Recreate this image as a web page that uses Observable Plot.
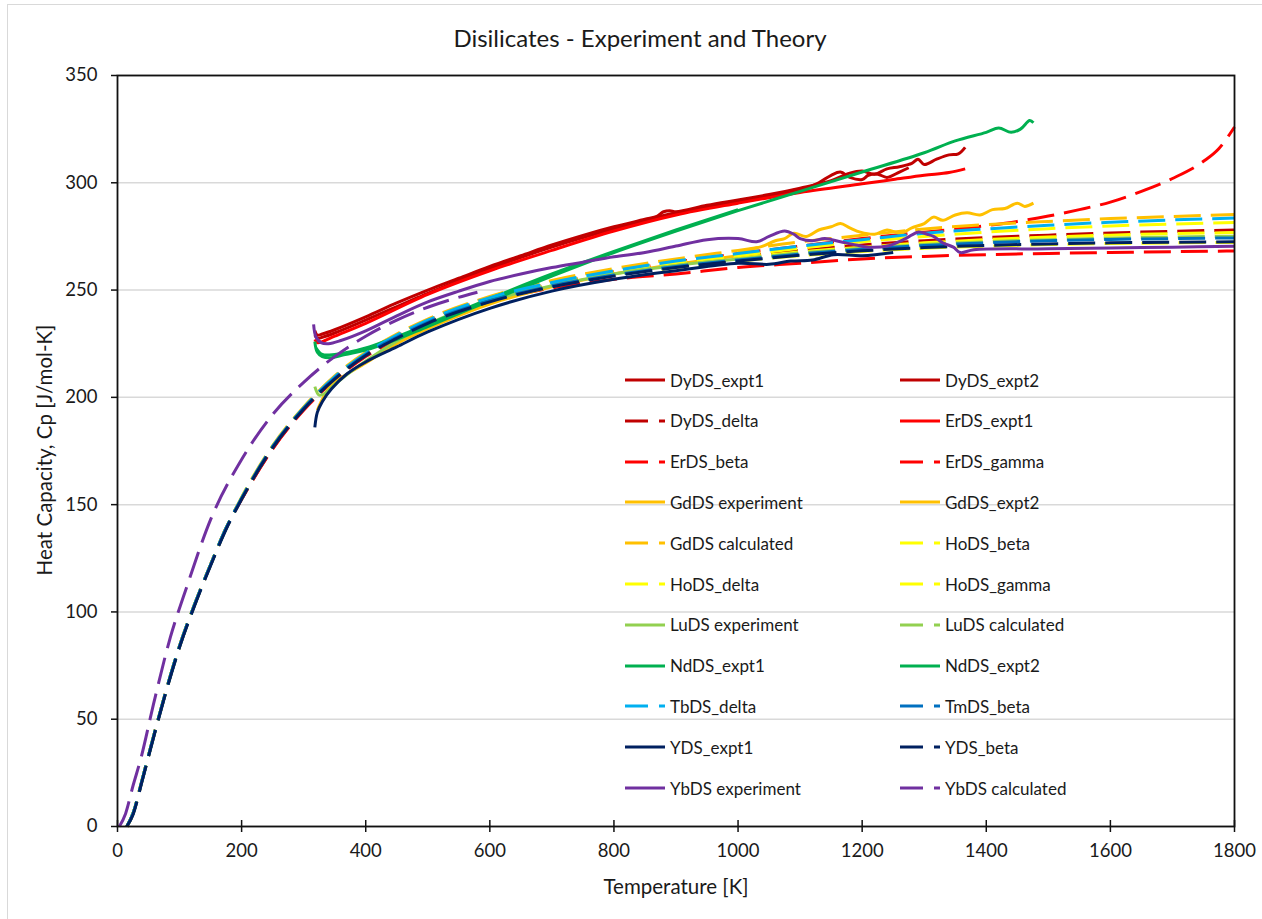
<!DOCTYPE html>
<html><head><meta charset="utf-8">
<script src="https://cdn.jsdelivr.net/npm/d3@7"></script>
<script src="https://cdn.jsdelivr.net/npm/@observablehq/plot@0.6"></script>
<style>
body{margin:0;background:#fff;font-family:Lato,"Open Sans",sans-serif;}
#wrap{position:relative;width:1262px;height:919px;overflow:hidden;background:#fff;}
#border{position:absolute;left:7px;top:4px;width:1300px;height:1000px;border:1.5px solid #d9d9d9;box-sizing:border-box;}
#title{position:absolute;left:0;width:1280px;top:23px;text-align:center;font-size:24px;color:#1a1a1a;}
#ylab{position:absolute;left:44px;top:450px;transform:translate(-50%,-50%) rotate(-90deg);white-space:nowrap;font-size:20.5px;color:#1a1a1a;}
#xlab{position:absolute;left:676px;top:874px;transform:translateX(-50%);white-space:nowrap;font-size:20.5px;color:#1a1a1a;}
#chart{position:absolute;left:0;top:0;}
#legend{position:absolute;left:0;top:0;}
.li{position:absolute;display:flex;align-items:center;font-size:17px;color:#1a1a1a;white-space:nowrap;}
.li svg{margin-right:5px;}
</style></head>
<body><div id="wrap"><div id="border"></div><div id="chart"></div><div id="legend"></div>
<div id="title">Disilicates - Experiment and Theory</div>
<div id="ylab">Heat Capacity, Cp [J/mol-K]</div>
<div id="xlab">Temperature [K]</div></div>
<script>
// ---------- axis ticks ----------
const xTicks = [0, 200, 400, 600, 800, 1000, 1200, 1400, 1600, 1800];
const yTicks = [0, 50, 100, 150, 200, 250, 300, 350];

// ---------- series names (legend order) ----------
const seriesNames = ["DyDS_expt1","DyDS_expt2","DyDS_delta","ErDS_expt1","ErDS_beta","ErDS_gamma",
  "GdDS experiment","GdDS_expt2","GdDS calculated","HoDS_beta","HoDS_delta","HoDS_gamma",
  "LuDS experiment","LuDS calculated","NdDS_expt1","NdDS_expt2","TbDS_delta","TmDS_beta",
  "YDS_expt1","YDS_beta","YbDS experiment","YbDS calculated"];

// ---------- experimental data ----------
const dyExpt1T  = [318,322,330,350,400,450,500,550,600,650,700,750,800,850,870,880,890,900,950,1000,1050,1100,1150,1180,1200,1220,1240,1260,1280,1290,1300,1320,1340,1355,1366];
const dyExpt1Cp = [231,229,229.5,231.5,237.5,244,250,255.5,261,266,271,275.5,279.5,283,284.5,286.5,287,286.5,289.5,292,294.5,297.5,301,304.5,305.5,304,306.5,307.5,309,311,308.5,311,313,313.5,316.5];
const dyExpt2T  = [318,322,330,350,400,500,600,700,800,900,1000,1050,1100,1130,1150,1165,1180,1200,1210,1225,1240,1260,1275];
const dyExpt2Cp = [229,227.5,228,230,236,248.5,260,270,278.5,286,291,293.5,296.5,300,303.5,305,302.5,301.5,303.5,304,302.5,305,307];
const erExpt1T  = [318,322,330,350,400,500,600,700,800,900,1000,1100,1200,1250,1300,1340,1366];
const erExpt1Cp = [227,225.5,226,228.5,234.5,248,259,268.5,277.5,285,290.5,295.5,299.5,301.5,303.5,304.8,306.5];
const gdExptT   = [322,330,340,360,400,450,500,600,700,800,900,1000];
const gdExptCp  = [194,199,204,209,216,225,232,243.5,251.5,257.5,262,266];
const gdExpt2T  = [1000,1020,1040,1060,1075,1090,1110,1130,1150,1165,1180,1197,1220,1240,1262,1280,1300,1315,1330,1350,1369,1390,1410,1430,1450,1462,1476];
const gdExpt2Cp = [268,269,270.5,273,274,276.5,275,278,279.5,281,279,277,276,278,276.5,279,281,284,282.5,285,286,285,287.5,288,290.5,289,290.5];
const luExptT   = [318,325,335,350,400,500,600,700,800,900,1000];
const luExptCp  = [205,201,202,206,217,234,245,252,257.5,261.5,264.5];
const ndExpt1T  = [318,322,330,345,360,400,450,500,600,700,800,900,1000,1100,1200,1300,1350,1400,1420,1440,1455,1470,1476];
const ndExpt1Cp = [226,221,219,218.5,219.5,222,227,233,245,256.5,267.5,277.5,287,296,305,314,319.5,323.5,325.5,323.5,325,329,328];
const ndExpt2T  = [320,330,350,400,500,600,700,800,900,1000];
const ndExpt2Cp = [223,220,220,223,234,246,257.5,268,278,287.5];
const yExpt1T   = [318,322,330,345,370,400,450,500,600,700,800,900,1000,1050,1085,1120,1154,1200,1250];
const yExpt1Cp  = [186,193,198,204,211,216.5,223.5,230.5,241.5,249.5,255,259,262.5,262,263.5,264,266.5,266,267.5];
const ybExptT   = [316,320,328,340,360,400,450,500,550,600,650,700,750,800,850,900,950,1000,1030,1050,1075,1090,1100,1120,1140,1165,1190,1210,1240,1270,1290,1305,1315,1330,1347,1358,1380,1500,1600,1700,1800];
const ybExptCp  = [234,228,225.5,225,226.5,231,238,244.5,249.5,254,257.5,260.5,263,265.5,267.5,270.5,273.5,274,272.5,275,277.5,276,274,273,274,272.5,271,270,270.5,274,277,276,275,272,270,267.5,268.8,269.2,269.6,270,270.4];

// ---------- calculated data ----------
const theoryT   = [15,25,40,60,80,100,125,150,175,200,250,300,350,400,450,500,600,700,800,900,1000,1100,1200,1300,1400,1500,1600,1700,1800];
const gdCalcCp  = [0,6,22,44,65,84,104,122,139,153.5,177.5,195.5,210,221,229.5,236.5,247,254.5,260,264.5,268.5,272.5,275.5,278.5,280.5,282,283.3,284.3,285.2];
const tbDeltaCp = [0,6,22,44,65,84,104,122,139,153,177,195,209.5,220.5,229,236,246.5,253.5,259,263.5,267,270.5,273.5,276.5,278.5,280.2,281.6,282.7,283.6];
const hoBetaCp  = [0,6,22,44,65,84,104,122,139,153,177,195,209,220,228.5,235.5,246,253,258.5,262.5,266,269.5,272.5,275,277,278.6,279.9,280.8,281.5];
const dyDeltaCp = [0,6,22,44,65,84,104,122,139,153,177,195,209,220,228,235,245.5,252.5,258,262,265.5,268.5,271,273,274.5,275.6,276.6,277.4,278];
const hoDeltaCp = [0,6,22,44,65,84,104,122,139,153,177,195,209,220,228,235,245.5,252.5,257.5,261.5,264.8,267.8,270,272,273.5,274.7,275.6,276.3,276.8];
const luCalcCp  = [0,6,22,44,65,84,104,122,139,153,177,195,209,220,228,235,245.5,252.5,257.5,261.5,264.5,267.3,269.5,271.2,272.5,273.5,274.2,274.7,275.1];
const tmBetaCp  = [0,6,22,44,65,84,104,122,139,153,177,195,209,220,228,235,245,252,257,261,264,266.8,269,270.8,272,273,273.6,274,274.3];
const hoGammaCp = [0,6,22,44,65,84,104,122,139,153,177,195,209,220,228,235,245,252,257,260.5,263.5,266,268,269.5,270.5,271.2,271.7,272,272.2];
const yBetaCp   = [0,5.5,21.5,43.5,64.5,83.5,103.5,121.5,138.5,152.5,176.5,194.5,208.5,219.5,227.5,234.5,244.5,251.5,256.5,260.5,263.5,266.2,268.3,269.8,270.8,271.5,272,272.3,272.5];
const erGammaCp = [0,6,22,44,65,84,104,122,139,152.5,176,194,208,219,227,234,244.5,251,255,257.5,260.5,262.5,264.5,265.7,266.5,267.1,267.5,267.9,268.2];
const erBetaT   = [15,25,40,60,80,100,125,150,175,200,250,300,350,400,450,500,600,700,800,900,1000,1100,1200,1300,1400,1450,1500,1550,1600,1650,1700,1750,1775,1800];
const erBetaCp  = [0,6,22,44,65,84,104,122,139,152.5,176,194.5,209,220,228.5,235.5,246,253,258.5,263,267,270.5,274,277,280,282,284.5,287.5,291,296,302,310,316,326];
const ybCalcT   = [3,13,25,37,58,85,112,150,200,250,300,350,400,450,500,580];
const ybCalcCp  = [0,6,19,31,57,88,112,143,171,192,207,219,228.5,236,242,249];

// ---------- styles ----------
const C = {dy:"#C00000", er:"#FF0000", gd:"#FFC000", ho:"#FFFF00", lu:"#92D050", nd:"#00B050", tb:"#00B0F0", tm:"#0070C0", y:"#002060", yb:"#7030A0"};
const seriesData = {
  "DyDS_expt1":[dyExpt1T,dyExpt1Cp,C.dy,false],
  "DyDS_expt2":[dyExpt2T,dyExpt2Cp,C.dy,false],
  "DyDS_delta":[theoryT,dyDeltaCp,C.dy,true],
  "ErDS_expt1":[erExpt1T,erExpt1Cp,C.er,false],
  "ErDS_beta":[erBetaT,erBetaCp,C.er,true],
  "ErDS_gamma":[theoryT,erGammaCp,C.er,true],
  "GdDS experiment":[gdExptT,gdExptCp,C.gd,false],
  "GdDS_expt2":[gdExpt2T,gdExpt2Cp,C.gd,false],
  "GdDS calculated":[theoryT,gdCalcCp,C.gd,true],
  "HoDS_beta":[theoryT,hoBetaCp,C.ho,true],
  "HoDS_delta":[theoryT,hoDeltaCp,C.ho,true],
  "HoDS_gamma":[theoryT,hoGammaCp,C.ho,true],
  "LuDS experiment":[luExptT,luExptCp,C.lu,false],
  "LuDS calculated":[theoryT,luCalcCp,C.lu,true],
  "NdDS_expt1":[ndExpt1T,ndExpt1Cp,C.nd,false],
  "NdDS_expt2":[ndExpt2T,ndExpt2Cp,C.nd,false],
  "TbDS_delta":[theoryT,tbDeltaCp,C.tb,true],
  "TmDS_beta":[theoryT,tmBetaCp,C.tm,true],
  "YDS_expt1":[yExpt1T,yExpt1Cp,C.y,false],
  "YDS_beta":[theoryT,yBetaCp,C.y,true],
  "YbDS experiment":[ybExptT,ybExptCp,C.yb,false],
  "YbDS calculated":[ybCalcT,ybCalcCp,C.yb,true]
};

const lineMarks = seriesNames.map(name => {
  const [T, Cp, color, dashed] = seriesData[name];
  const rows = T.map((t, i) => ({T: t, Cp: Cp[i]}));
  return Plot.line(rows, {x: "T", y: "Cp", stroke: color, strokeWidth: 3,
    strokeDasharray: dashed ? "27,10" : null, strokeLinecap: "butt",
    curve: dashed ? "monotone-x" : "catmull-rom"});
});

const chart = Plot.plot({
  width: 1262, height: 919,
  marginLeft: 117, marginRight: 28, marginTop: 75, marginBottom: 93,
  x: {domain: [0, 1800]},
  y: {domain: [0, 350]},
  style: {fontFamily: "Lato, 'Open Sans', sans-serif", fontSize: "18.5px", color: "#1a1a1a", background: "transparent", overflow: "visible"},
  marks: [
    Plot.gridY(yTicks, {stroke: "#d9d9d9", strokeOpacity: 1, strokeWidth: 1.5}),
    ...lineMarks,
    Plot.frame({stroke: "#111", strokeWidth: 1.8}),
    Plot.axisY(yTicks, {tickSize: 6, tickPadding: 14, label: null, stroke: "#111", strokeWidth: 1.5, tickFormat: d3.format("d")}),
    Plot.axisX(xTicks, {tickSize: 0, tickPadding: 17, label: null, tickFormat: d3.format("d")}),
    Plot.ruleX(xTicks, {x: d => d, y1: yTicks[0], y2: yTicks[0], insetTop: -6, insetBottom: -6, stroke: "#111", strokeWidth: 1.5})
  ]
});
document.getElementById("chart").appendChild(chart);

// ---------- legend ----------
const legend = document.getElementById("legend");
const colX = [625, 900];
const rowY0 = 380, rowStep = 40.8;
seriesNames.forEach((name, i) => {
  const [, , color, dashed] = seriesData[name];
  const col = i % 2, row = Math.floor(i / 2);
  const div = document.createElement("div");
  div.className = "li";
  div.style.left = colX[col] + "px";
  div.style.top = (rowY0 + row * rowStep - 12) + "px";
  div.style.height = "24px";
  const ns = "http://www.w3.org/2000/svg";
  const s = document.createElementNS(ns, "svg");
  s.setAttribute("width", 40); s.setAttribute("height", 6);
  const l = document.createElementNS(ns, "line");
  l.setAttribute("x1", 0); l.setAttribute("x2", 40); l.setAttribute("y1", 3); l.setAttribute("y2", 3);
  l.setAttribute("stroke", color); l.setAttribute("stroke-width", 3);
  if (dashed) l.setAttribute("stroke-dasharray", "23,11");
  s.appendChild(l);
  div.appendChild(s);
  const sp = document.createElement("span");
  sp.textContent = name;
  div.appendChild(sp);
  legend.appendChild(div);
});
</script></body></html>
